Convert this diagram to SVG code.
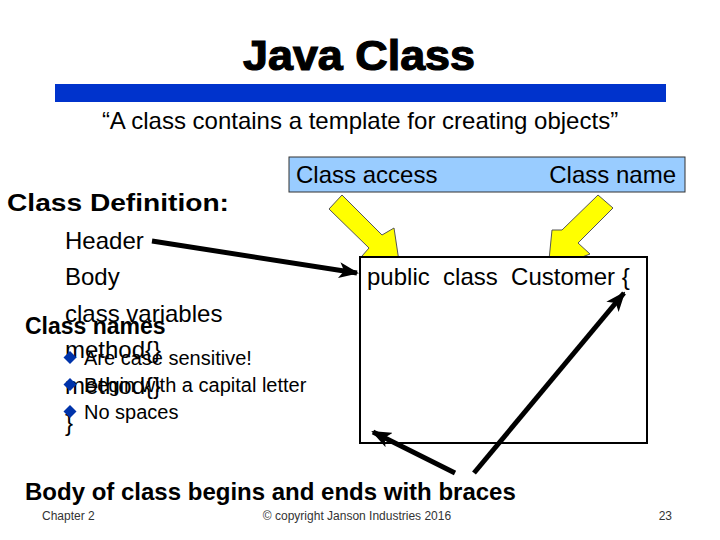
<svg xmlns="http://www.w3.org/2000/svg" width="720" height="540" viewBox="0 0 720 540">
<style>
text{font-family:"Liberation Sans",Arial,sans-serif;fill:#000}
.t21{font-size:24px}
.b{font-weight:bold}
.sm{font-size:20px}
.ft{font-size:12px;fill:#333}
.yel{fill:#ffff00;stroke:#555;stroke-width:1}
.blk{stroke:#000;stroke-width:5;fill:none}
.bul{fill:#0033aa}
</style>
<defs>
<marker id="ah" markerUnits="userSpaceOnUse" markerWidth="20" markerHeight="16" refX="18" refY="8" orient="auto">
<path d="M0,0 L20,8 L0,16 L5,8 Z" fill="#000"/>
</marker>
</defs>
<rect width="720" height="540" fill="#fff"/>
<g id="title">
<text x="359" y="70" text-anchor="middle" font-size="42" font-weight="bold" stroke="#000" stroke-width="1.2" textLength="232" lengthAdjust="spacingAndGlyphs">Java Class</text>
<rect x="55" y="84" width="611" height="18" fill="#0033cc"/>
<text x="360" y="129" text-anchor="middle" class="t21">“A class contains a template for creating objects”</text>
</g>
<g id="labels-box">
<rect x="289" y="157" width="396" height="35" fill="#99ccff" stroke="#333" stroke-width="1"/>
<text x="296" y="183" class="t21">Class access</text>
<text x="676" y="183" class="t21" text-anchor="end">Class name</text>
</g>
<g id="yellow-arrows">
<polygon class="yel" points="329,209 342,195 382,235 394,228 400,268 362,256 369,248"/>
<polygon class="yel" points="598,195 613,208 578,243 590,254 548,270 552,230 562,230"/>
</g>
<g id="code-box">
<rect x="360" y="257" width="287" height="186" fill="#fff" stroke="#000" stroke-width="2"/>
<text x="367" y="285" class="t21" xml:space="preserve">public  class  Customer {</text>
</g>
<g id="left-text">
<text x="7" y="211" class="t21 b" textLength="222" lengthAdjust="spacingAndGlyphs">Class Definition:</text>
<text x="65" y="249" class="t21">Header</text>
<text x="65" y="285" class="t21">Body</text>
<text x="65" y="322" class="t21">class variables</text>
<text x="25" y="334" font-size="23" class="b">Class names</text>
<text x="65" y="358" class="t21">method{}</text>
<text x="65" y="394" class="t21">method{}</text>
<text x="65" y="431" class="t21">}</text>
<path class="bul" d="M70,351 L76.5,357.5 L70,364 L63.5,357.5 Z"/>
<text x="84" y="365" class="sm">Are case sensitive!</text>
<path class="bul" d="M70,378 L76.5,384.5 L70,391 L63.5,384.5 Z"/>
<text x="84" y="392" class="sm">Begin with a capital letter</text>
<path class="bul" d="M70,405 L76.5,411.5 L70,418 L63.5,411.5 Z"/>
<text x="84" y="419" class="sm">No spaces</text>
</g>
<g id="connectors">
<line class="blk" x1="152" y1="241" x2="357" y2="273" marker-end="url(#ah)"/>
<line class="blk" x1="455" y1="473" x2="373" y2="432" marker-end="url(#ah)"/>
<line class="blk" x1="474" y1="473" x2="624" y2="293" marker-end="url(#ah)"/>
</g>
<g id="bottom">
<text x="25" y="500" class="t21 b">Body of class begins and ends with braces</text>
<text x="42" y="520" class="ft">Chapter 2</text>
<text x="357" y="520" class="ft" text-anchor="middle">© copyright Janson Industries 2016</text>
<text x="672" y="520" class="ft" text-anchor="end">23</text>
</g>
</svg>
